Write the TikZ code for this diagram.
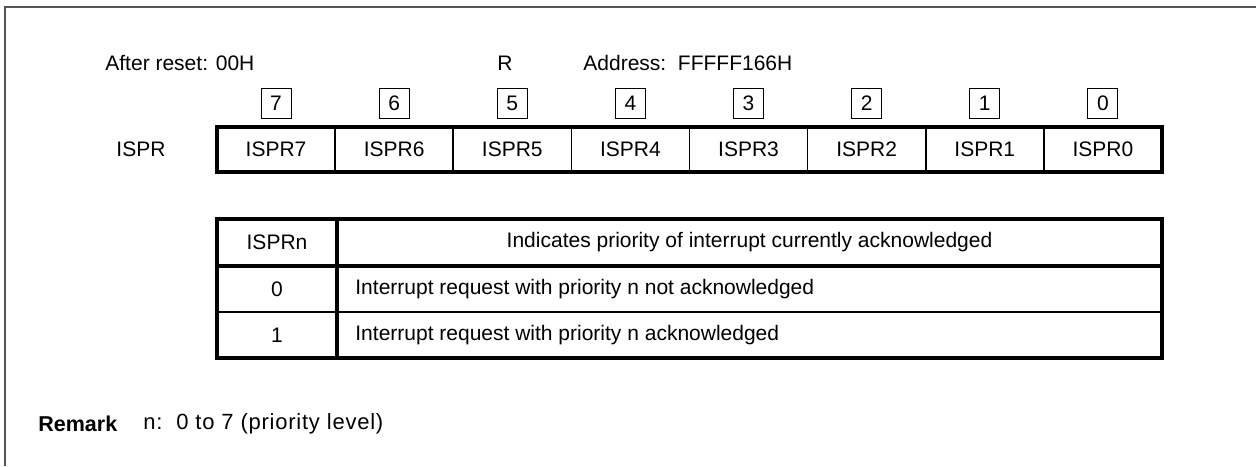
\documentclass[tikz,border=0pt]{standalone}
\usepackage{fontspec}
\setmainfont{Liberation Sans}
\definecolor{framegray}{HTML}{555555}
\begin{document}
\begin{tikzpicture}[x=0.5pt,y=-0.5pt,
  txt/.style={font=\fontsize{10.5}{12}\selectfont, inner sep=0pt},
  remtxt/.style={font=\fontsize{11}{13}\selectfont\addfontfeature{LetterSpace=3.5}, inner sep=0pt},
  bitbox/.style={draw, line width=0.5pt, minimum width=15pt, minimum height=15pt, inner sep=0pt, font=\fontsize{10.5}{12}\selectfont},
  heavy/.style={line width=2pt},
  light/.style={line width=0.8pt}]
\useasboundingbox (0,0) rectangle (1256,466);
% outer frame (top and left)
\coordinate (fb) at (5,466);
\coordinate (fc) at (5,7);
\coordinate (fr) at (1256,7);
\draw[framegray, line width=1.1pt] (fb) -- (fc) -- (fr);
% header texts
\node[txt, anchor=west] (reset) at (105,63) {After reset: 00H};
\node[txt] (rw) at (505,63) {R};
\node[txt, anchor=west] (addr) at (583,63) {Address:\ \ FFFFF166H};
\node[txt] (regname) at (141,149) {ISPR};
% register row
\coordinate (rtl) at (217,126.5);
\coordinate (rbr) at (1162,171.5);
\foreach \i in {1,...,7} {
  \coordinate (dt\i) at ({217+118.125*\i},126.5);
  \coordinate (db\i) at ({217+118.125*\i},171.5);
  \draw[light] (dt\i) -- (db\i);
}
\draw[heavy] (rtl) rectangle (rbr);
\foreach \i in {0,...,7} {
  \pgfmathtruncatemacro{\b}{7-\i}
  \node[txt] (cell\b) at ({217+118.125*(\i+0.5)},149) {ISPR\b};
  \node[bitbox] (bit\b) at ({217+118.125*(\i+0.5)},103) {\b};
}
% table
\coordinate (ttl) at (217,219);
\coordinate (tbr) at (1162,358);
\coordinate (hl) at (217,266);
\coordinate (hr) at (1162,266);
\coordinate (ml) at (217,312);
\coordinate (mr) at (1162,312);
\coordinate (ct) at (337,219);
\coordinate (cb) at (337,358);
\draw[light] (ml) -- (mr);
\draw[heavy] (hl) -- (hr);
\draw[heavy] (ct) -- (cb);
\draw[heavy] (ttl) rectangle (tbr);
\node[txt] (th1) at (277,242.5) {ISPRn};
\node[txt] (th2) at (749.5,242.5) {Indicates priority of interrupt currently acknowledged};
\node[txt] (r0a) at (277,289) {0};
\node[txt, anchor=west] (r0b) at (355,289) {Interrupt request with priority n not acknowledged};
\node[txt] (r1a) at (277,335) {1};
\node[txt, anchor=west] (r1b) at (355,335) {Interrupt request with priority n acknowledged};
% remark
\node[txt, anchor=west, font=\fontsize{10.75}{13}\selectfont\bfseries] (rem) at (38,424) {Remark};
\node[remtxt, anchor=west] (remt) at (143,424) {n:\ \ 0 to 7 (priority level)};
\end{tikzpicture}
\end{document}
